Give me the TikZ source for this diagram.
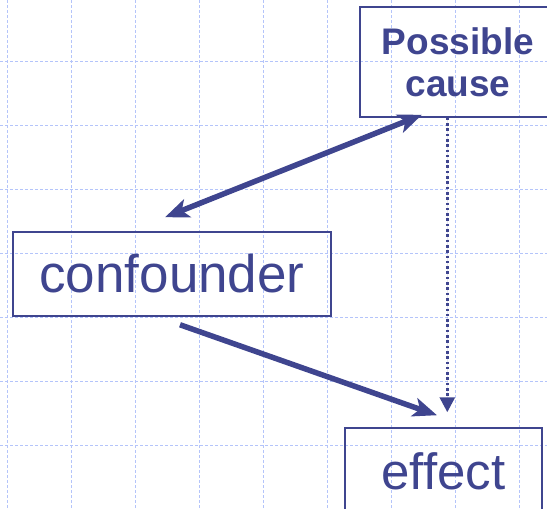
\documentclass[tikz,border=0pt]{standalone}
\usepackage{fontspec}
\setmainfont{Liberation Sans}
\usetikzlibrary{arrows.meta,positioning,calc}
\definecolor{navy}{RGB}{63,69,143}
\definecolor{gridblue}{RGB}{180,196,250}
\tikzset{
  factor/.style={rectangle, draw=navy, line width=1.5pt, text=navy,
                 align=center, inner sep=0pt},
  bigarr/.style={line width=5.5pt, draw=navy},
  dotarr/.style={-{Triangle[length=15pt,width=15pt]}, line width=3pt, draw=navy,
                 fill=navy, dash pattern=on 2.6pt off 2.7pt},
  gridline/.style={draw=gridblue, line width=0.9pt, dash pattern=on 3pt off 2pt},
}

\begin{document}
\begin{tikzpicture}[x=1pt, y=-1pt]
    \useasboundingbox (0,0) rectangle (547,509);
    \clip (0,0) rectangle (547,509);
    % background grid
    \foreach \gx in {7,71,...,519} \draw[gridline] (\gx,0) -- (\gx,509);
    \foreach \gy in {-3,61,...,509} \draw[gridline] (0,\gy) -- (547,\gy);
    \node[factor, minimum width=196pt, minimum height=110pt,
          font=\bfseries\fontsize{37}{42}\selectfont] (cause) at (458,62) {Possible\\cause};
    \node[factor, minimum width=318pt, minimum height=84pt,
          font=\fontsize{53}{60}\selectfont] (conf) at (172,274) {confounder};
    \node[factor, minimum width=197pt, minimum height=87pt,
          font=\fontsize{51}{58}\selectfont] (eff) at (443.5,471.5) {effect};
    \coordinate (confTop) at ($(conf.north)+(-7,-14)$);
    \coordinate (causeFoot) at ($(cause.south)+(-36,-3)$);
    \coordinate (confFoot) at ($(conf.south)+(8,8)$);
    \coordinate (effTop) at ($(eff.north)+(-6.5,-12)$);
    \coordinate (dotStart) at ($(cause.south)+(-10.7,0)$);
    \coordinate (dotEnd) at ($(eff.north)+(3.8,-15)$);
    \draw[bigarr, {Stealth[length=24pt,width=19pt,inset=6pt]}-{Stealth[length=24pt,width=19pt,inset=6pt]}]
      (confTop) -- (causeFoot);
    \draw[bigarr, -{Stealth[length=24pt,width=19pt,inset=6pt]}] (confFoot) -- (effTop);
    \draw[dotarr] (dotStart) -- (dotEnd);
  \end{tikzpicture}
\end{document}
